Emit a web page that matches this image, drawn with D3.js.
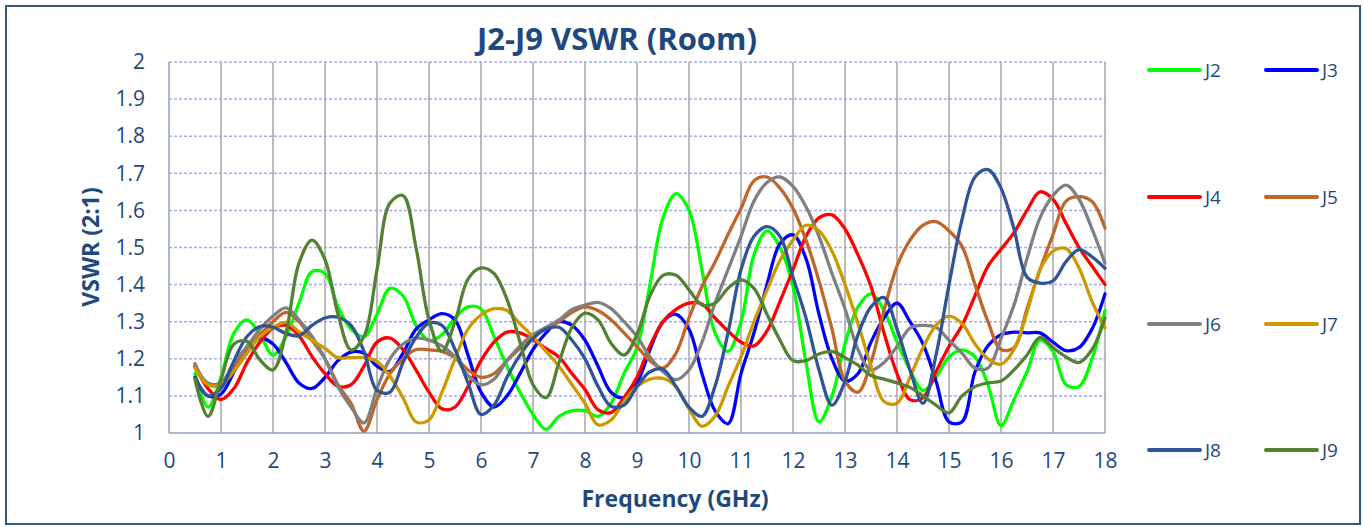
<!DOCTYPE html>
<html>
<head>
<meta charset="utf-8">
<script src="https://cdn.jsdelivr.net/npm/d3@7/dist/d3.min.js"></script>
<style>
  body { margin: 0; background: #fff; }
  text { font-family: "Open Sans", sans-serif; fill: #1f497d; }
</style>
</head>
<body>
<div id="chart"></div>
<script>
// Frequency points (GHz)
const freq = [0.5, 0.75,
  1, 1.25, 1.5, 1.75, 2, 2.25, 2.5, 2.75, 3, 3.25, 3.5, 3.75,
  4, 4.25, 4.5, 4.75, 5, 5.25, 5.5, 5.75, 6, 6.25, 6.5, 6.75,
  7, 7.25, 7.5, 7.75, 8, 8.25, 8.5, 8.75, 9, 9.25, 9.5, 9.75,
  10, 10.25, 10.5, 10.75, 11, 11.25, 11.5, 11.75, 12, 12.25, 12.5, 12.75,
  13, 13.25, 13.5, 13.75, 14, 14.25, 14.5, 14.75, 15, 15.25, 15.5, 15.75,
  16, 16.25, 16.5, 16.75, 17, 17.25, 17.5, 17.75, 18];

const j2 = [1.16, 1.07,
  1.15, 1.27, 1.305, 1.265, 1.21, 1.26, 1.35, 1.435, 1.43, 1.34, 1.28, 1.26,
  1.32, 1.39, 1.37, 1.29, 1.25, 1.265, 1.31, 1.34, 1.335, 1.26, 1.18, 1.11,
  1.05, 1.01, 1.045, 1.06, 1.06, 1.045, 1.08, 1.16, 1.23, 1.40, 1.58, 1.645,
  1.60, 1.44, 1.27, 1.22, 1.30, 1.48, 1.545, 1.50, 1.395, 1.19, 1.03, 1.10,
  1.24, 1.34, 1.375, 1.33, 1.245, 1.17, 1.115, 1.15, 1.205, 1.224, 1.205, 1.13,
  1.02, 1.09, 1.165, 1.25, 1.22, 1.13, 1.125, 1.20, 1.33];

const j3 = [1.15, 1.10,
  1.105, 1.165, 1.23, 1.256, 1.24, 1.19, 1.135, 1.12, 1.15, 1.195, 1.218, 1.215,
  1.18, 1.166, 1.215, 1.28, 1.305, 1.322, 1.305, 1.21, 1.11, 1.07, 1.10, 1.16,
  1.225, 1.27, 1.30, 1.29, 1.25, 1.18, 1.11, 1.095, 1.135, 1.225, 1.30, 1.32,
  1.28, 1.16, 1.06, 1.025, 1.16, 1.27, 1.40, 1.51, 1.534, 1.47, 1.32, 1.20,
  1.14, 1.16, 1.245, 1.31, 1.35, 1.30, 1.24, 1.14, 1.03, 1.03, 1.165, 1.235,
  1.265, 1.272, 1.27, 1.27, 1.245, 1.222, 1.23, 1.28, 1.375];

const j4 = [1.18, 1.12,
  1.09, 1.12, 1.19, 1.245, 1.283, 1.29, 1.262, 1.206, 1.16, 1.126, 1.13, 1.18,
  1.245, 1.256, 1.225, 1.17, 1.11, 1.065, 1.07, 1.125, 1.195, 1.245, 1.272, 1.27,
  1.252, 1.228, 1.205, 1.16, 1.117, 1.063, 1.055, 1.095, 1.15, 1.235, 1.30, 1.333,
  1.35, 1.348, 1.31, 1.275, 1.245, 1.235, 1.275, 1.355, 1.44, 1.53, 1.58, 1.588,
  1.55, 1.48, 1.395, 1.27, 1.16, 1.09, 1.095, 1.165, 1.233, 1.29, 1.37, 1.45,
  1.495, 1.54, 1.60, 1.65, 1.63, 1.565, 1.50, 1.45, 1.40];

const j5 = [1.187, 1.13,
  1.135, 1.178, 1.224, 1.265, 1.30, 1.325, 1.30, 1.25, 1.20, 1.13, 1.08, 1.005,
  1.09, 1.16, 1.20, 1.225, 1.224, 1.22, 1.203, 1.17, 1.15, 1.16, 1.195, 1.228,
  1.26, 1.282, 1.30, 1.325, 1.34, 1.33, 1.305, 1.27, 1.233, 1.195, 1.175, 1.215,
  1.31, 1.395, 1.46, 1.535, 1.605, 1.68, 1.69, 1.66, 1.605, 1.52, 1.41, 1.28,
  1.14, 1.11, 1.19, 1.33, 1.45, 1.52, 1.56, 1.57, 1.545, 1.503, 1.40, 1.30,
  1.225, 1.23, 1.335, 1.44, 1.535, 1.625, 1.637, 1.624, 1.552];

const j6 = [1.18, 1.135,
  1.135, 1.19, 1.233, 1.28, 1.315, 1.337, 1.305, 1.26, 1.20, 1.125, 1.07, 1.027,
  1.12, 1.20, 1.24, 1.256, 1.25, 1.235, 1.205, 1.155, 1.13, 1.145, 1.195, 1.235,
  1.265, 1.285, 1.305, 1.333, 1.345, 1.352, 1.335, 1.30, 1.26, 1.205, 1.165, 1.144,
  1.17, 1.245, 1.35, 1.44, 1.53, 1.625, 1.675, 1.69, 1.665, 1.61, 1.53, 1.43,
  1.335, 1.225, 1.17, 1.19, 1.233, 1.283, 1.29, 1.285, 1.25, 1.215, 1.175, 1.175,
  1.255, 1.345, 1.47, 1.58, 1.64, 1.668, 1.63, 1.55, 1.458];

const j7 = [1.175, 1.13,
  1.13, 1.167, 1.215, 1.26, 1.285, 1.298, 1.273, 1.25, 1.228, 1.203, 1.203, 1.203,
  1.193, 1.153, 1.095, 1.03, 1.035, 1.11, 1.20, 1.28, 1.318, 1.335, 1.33, 1.294,
  1.26, 1.22, 1.18, 1.13, 1.08, 1.022, 1.035, 1.085, 1.126, 1.145, 1.147, 1.125,
  1.065, 1.018, 1.045, 1.125, 1.205, 1.30, 1.385, 1.465, 1.52, 1.56, 1.545, 1.49,
  1.40, 1.295, 1.18, 1.085, 1.08, 1.15, 1.23, 1.29, 1.315, 1.295, 1.24, 1.20,
  1.185, 1.225, 1.325, 1.44, 1.49, 1.497, 1.445, 1.355, 1.283];

const j8 = [1.148, 1.10,
  1.12, 1.195, 1.26, 1.287, 1.285, 1.268, 1.262, 1.29, 1.31, 1.312, 1.29, 1.22,
  1.115, 1.11, 1.19, 1.258, 1.296, 1.29, 1.225, 1.135, 1.05, 1.075, 1.15, 1.21,
  1.255, 1.28, 1.285, 1.25, 1.20, 1.126, 1.072, 1.075, 1.125, 1.165, 1.172, 1.125,
  1.07, 1.045, 1.126, 1.27, 1.44, 1.53, 1.556, 1.53, 1.42, 1.31, 1.17, 1.075,
  1.14, 1.265, 1.34, 1.365, 1.28, 1.17, 1.08, 1.21, 1.40, 1.575, 1.69, 1.71,
  1.66, 1.55, 1.42, 1.404, 1.41, 1.462, 1.494, 1.475, 1.444];

const j9 = [1.144, 1.045,
  1.144, 1.24, 1.247, 1.197, 1.17, 1.27, 1.458, 1.52, 1.467, 1.32, 1.224, 1.26,
  1.44, 1.62, 1.64, 1.50, 1.305, 1.22, 1.30, 1.415, 1.445, 1.43, 1.36, 1.245,
  1.13, 1.095, 1.19, 1.285, 1.323, 1.305, 1.242, 1.21, 1.265, 1.37, 1.425, 1.425,
  1.386, 1.345, 1.35, 1.39, 1.413, 1.39, 1.32, 1.25, 1.195, 1.195, 1.213, 1.22,
  1.203, 1.183, 1.155, 1.145, 1.135, 1.123, 1.10, 1.075, 1.054, 1.10, 1.125, 1.135,
  1.14, 1.17, 1.21, 1.258, 1.23, 1.205, 1.19, 1.225, 1.31];

const seriesNames = ["J2", "J3", "J4", "J5", "J6", "J7", "J8", "J9"];
const seriesValues = [j2, j3, j4, j5, j6, j7, j8, j9];
const seriesColors = ["#00ff00", "#0000ff", "#ff0000", "#bf672b", "#808080", "#cc9900", "#2f5597", "#548235"];

const xTicks = [0, 1, 2, 3, 4, 5, 6, 7, 8, 9, 10, 11, 12, 13, 14, 15, 16, 17, 18];
const yTicks = [1, 1.1, 1.2, 1.3, 1.4, 1.5, 1.6, 1.7, 1.8, 1.9, 2];

const W = 1363, H = 527;
const margin = { top: 62, right: 258, bottom: 94, left: 169 };
const width = W - margin.left - margin.right;
const height = H - margin.top - margin.bottom;

const svg = d3.select("#chart").append("svg")
  .attr("width", W)
  .attr("height", H);

// chart frame
svg.append("rect")
  .attr("x", 6).attr("y", 6)
  .attr("width", 1354).attr("height", 518)
  .attr("fill", "#fff")
  .attr("stroke", "#2f5a8c")
  .attr("stroke-width", 2);

const g = svg.append("g")
  .attr("transform", `translate(${margin.left}, ${margin.top})`);

const xScale = d3.scaleLinear().domain([0, 18]).range([0, width]);
const yScale = d3.scaleLinear().domain([1, 2]).range([height, 0]);

// horizontal gridlines (dashed light blue)
g.selectAll(".hgrid")
  .data(yTicks.filter((d) => d > 1))
  .enter()
  .append("line")
  .attr("x1", 0).attr("x2", width)
  .attr("y1", (d) => yScale(d)).attr("y2", (d) => yScale(d))
  .attr("stroke", "#a8a8f8")
  .attr("stroke-width", 1.5)
  .attr("stroke-dasharray", "3,2");

// vertical gridlines (gray)
g.selectAll(".vgrid")
  .data(xTicks.filter((d) => d > 0))
  .enter()
  .append("line")
  .attr("x1", (d) => xScale(d)).attr("x2", (d) => xScale(d))
  .attr("y1", 0).attr("y2", height)
  .attr("stroke", "#a6a6a6")
  .attr("stroke-width", 1.5);

// axis lines
g.append("line")
  .attr("x1", 0).attr("x2", 0).attr("y1", 0).attr("y2", height)
  .attr("stroke", "#8ea2c0").attr("stroke-width", 1.5);
g.append("line")
  .attr("x1", 0).attr("x2", width).attr("y1", height).attr("y2", height)
  .attr("stroke", "#8ea2c0").attr("stroke-width", 1.5);

// y axis labels
const yAxis = g.append("g")
  .call(d3.axisLeft(yScale).tickValues(yTicks).tickSize(0).tickPadding(24)
    .tickFormat((d) => String(+d.toFixed(1))));
yAxis.select(".domain").remove();
yAxis.selectAll("text")
  .style("font-size", "21px")
  .attr("fill", "#1f497d");

// x axis labels
const xAxis = g.append("g")
  .attr("transform", `translate(0, ${height})`)
  .call(d3.axisBottom(xScale).tickValues(xTicks).tickSize(0).tickPadding(20)
    .tickFormat(d3.format("d")));
xAxis.select(".domain").remove();
xAxis.selectAll("text")
  .style("font-size", "21px")
  .attr("fill", "#1f497d");

// lines
const line = d3.line()
  .x((d) => xScale(d[0]))
  .y((d) => yScale(d[1]))
  .curve(d3.curveCatmullRom.alpha(0.5));

seriesValues.forEach((vals, i) => {
  g.append("path")
    .datum(freq.map((f, k) => [f, vals[k]]))
    .attr("fill", "none")
    .attr("stroke", seriesColors[i])
    .attr("stroke-width", 3.3)
    .attr("stroke-linejoin", "round")
    .attr("stroke-linecap", "round")
    .attr("d", line);
});

// titles
svg.append("text")
  .attr("x", 617).attr("y", 38)
  .attr("text-anchor", "middle")
  .attr("dominant-baseline", "central")
  .style("font-size", "31px")
  .style("font-weight", "bold")
  .text("J2-J9 VSWR (Room)");

svg.append("text")
  .attr("x", 675).attr("y", 498)
  .attr("text-anchor", "middle")
  .attr("dominant-baseline", "central")
  .style("font-size", "23px")
  .style("font-weight", "bold")
  .text("Frequency (GHz)");

svg.append("text")
  .attr("transform", "translate(90, 247) rotate(-90)")
  .attr("text-anchor", "middle")
  .attr("dominant-baseline", "central")
  .style("font-size", "23px")
  .style("font-weight", "bold")
  .text("VSWR (2:1)");

// legend: two columns, four rows
const legendRows = [70, 197, 324, 450];
const legendCols = [1149, 1266];
const legend = svg.selectAll(".legend")
  .data(seriesNames)
  .enter()
  .append("g")
  .attr("transform", (d, i) => `translate(${legendCols[i % 2]}, ${legendRows[Math.floor(i / 2)]})`);

legend.append("line")
  .attr("x1", 0).attr("x2", 51)
  .attr("stroke", (d, i) => seriesColors[i])
  .attr("stroke-width", 4)
  .attr("stroke-linecap", "round");

legend.append("text")
  .attr("x", 56)
  .attr("dominant-baseline", "central")
  .style("font-size", "19px")
  .text((d) => d);
</script>
</body>
</html>
